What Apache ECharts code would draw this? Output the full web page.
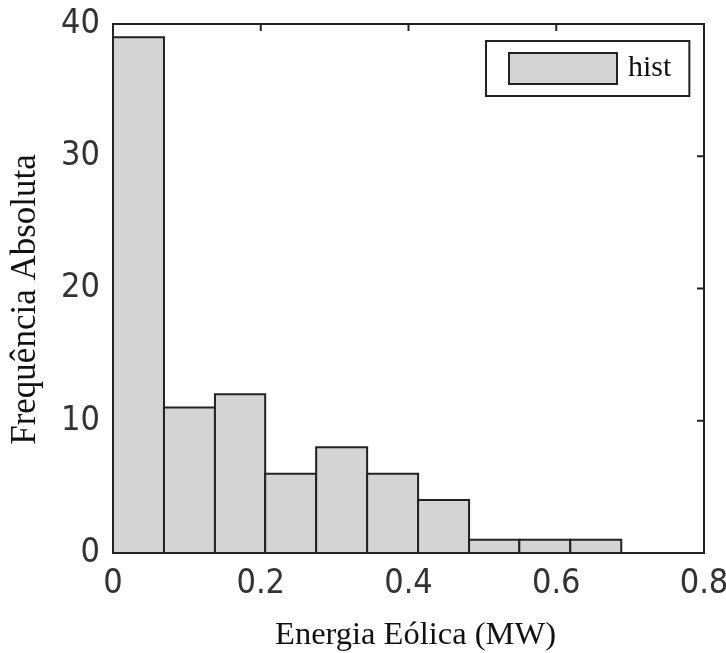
<!DOCTYPE html>
<html>
<head>
<meta charset="utf-8">
<script src="https://cdn.jsdelivr.net/npm/echarts@6/dist/echarts.min.js"></script>
<style>html,body{margin:0;padding:0;background:#fff}#c{width:726px;height:653px}</style>
</head>
<body>
<div id="c"></div>
<script>
// Histogram bin edges (MW) and absolute frequencies
var binEdges = [0, 0.069, 0.138, 0.206, 0.275, 0.344, 0.413, 0.482, 0.550, 0.619, 0.688];
var counts = [39, 11, 12, 6, 8, 6, 4, 1, 1, 1];
var xTicks = [0, 0.2, 0.4, 0.6, 0.8];
var yTicks = [0, 10, 20, 30, 40];
var seriesName = 'hist';
var xTitle = 'Energia Eólica (MW)';
var yTitle = 'Frequência Absoluta';

var xMin = xTicks[0], xMax = xTicks[xTicks.length - 1];
var yMin = yTicks[0], yMax = yTicks[yTicks.length - 1];
var data = counts.map(function (c, i) { return [binEdges[i], binEdges[i + 1], c]; });
var tickData = xTicks.map(function (v) { return ['x', v]; }).concat(yTicks.map(function (v) { return ['y', v]; }));

var fill = '#d4d4d4', edge = '#222', tickLen = 7;
var tickFont = { fontFamily: 'DejaVu Sans Condensed, Liberation Sans', fontSize: 34, color: '#333' };

var chart = echarts.init(document.getElementById('c'));
chart.setOption({
  animation: false,
  backgroundColor: '#fff',
  grid: { left: 113, top: 24, right: 22, bottom: 100, containLabel: false, outerBoundsMode: 'none',
          show: true, borderColor: edge, borderWidth: 2, backgroundColor: 'transparent' },
  legend: {
    left: 486, top: 41,
    padding: [11, 18, 11, 22],
    borderColor: edge, borderWidth: 2, borderRadius: 0,
    itemWidth: 108, itemHeight: 31,
    data: [{ name: seriesName, icon: 'rect', itemStyle: { color: fill, borderColor: edge, borderWidth: 2 } }],
    textStyle: { fontFamily: 'Liberation Serif', fontSize: 30, color: '#111', lineHeight: 31, padding: [0, 0, 0, 6] }
  },
  xAxis: {
    type: 'value', min: xMin, max: xMax, interval: 0.2,
    name: xTitle, nameLocation: 'middle', nameGap: 66,
    nameTextStyle: { fontFamily: 'Liberation Serif', fontSize: 32.5, color: '#111', padding: [0, 0, 0, 14] },
    axisLine: { show: true, lineStyle: { color: edge, width: 2 } },
    axisTick: { show: false },
    axisLabel: Object.assign({ margin: 14, formatter: function (v) { return xTicks.indexOf(+v.toFixed(1)) >= 0 ? String(+v.toFixed(1)) : ''; } }, tickFont),
    splitLine: { show: false }
  },
  yAxis: {
    type: 'value', min: yMin, max: yMax, interval: 10,
    name: yTitle, nameLocation: 'middle', nameGap: 70, nameRotate: 90,
    nameTextStyle: { fontFamily: 'Liberation Serif', fontSize: 35, color: '#111', padding: [0, 22, 0, 0] },
    axisLine: { show: true, lineStyle: { color: edge, width: 2 } },
    axisTick: { show: false },
    axisLabel: Object.assign({ margin: 13, formatter: function (v) { return yTicks.indexOf(v) >= 0 ? String(v) : ''; } }, tickFont),
    splitLine: { show: false }
  },
  series: [{
    name: 'ticks',
    type: 'custom',
    silent: true,
    z: 1,
    data: tickData,
    encode: { x: -1, y: -1 },
    renderItem: function (params, api) {
      var d = tickData[params.dataIndex];
      var style = { stroke: edge, lineWidth: 2, fill: null };
      var a, b;
      if (d[0] === 'x') {
        a = api.coord([d[1], yMin]); b = api.coord([d[1], yMax]);
        return { type: 'group', children: [
          { type: 'line', shape: { x1: a[0], y1: a[1], x2: a[0], y2: a[1] - tickLen }, style: style },
          { type: 'line', shape: { x1: b[0], y1: b[1], x2: b[0], y2: b[1] + tickLen }, style: style }
        ] };
      }
      a = api.coord([xMin, d[1]]); b = api.coord([xMax, d[1]]);
      return { type: 'group', children: [
        { type: 'line', shape: { x1: a[0], y1: a[1], x2: a[0] + tickLen, y2: a[1] }, style: style },
        { type: 'line', shape: { x1: b[0], y1: b[1], x2: b[0] - tickLen, y2: b[1] }, style: style }
      ] };
    }
  }, {
    name: seriesName,
    type: 'custom',
    z: 3,
    itemStyle: { color: fill, borderColor: edge, borderWidth: 2 },
    encode: { x: [0, 1], y: 2 },
    data: data,
    renderItem: function (params, api) {
      var p0 = api.coord([api.value(0), 0]);
      var p1 = api.coord([api.value(1), api.value(2)]);
      return {
        type: 'rect',
        shape: { x: p0[0], y: p1[1], width: p1[0] - p0[0], height: p0[1] - p1[1] },
        style: { fill: fill, stroke: edge, lineWidth: 2 }
      };
    }
  }]
});
</script>
</body>
</html>
